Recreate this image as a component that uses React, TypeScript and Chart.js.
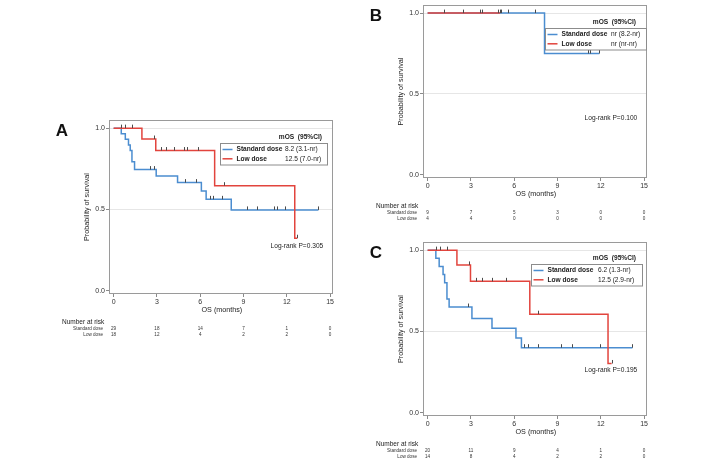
import React, { useEffect, useRef } from "react";
import { Chart, registerables } from "chart.js";
Chart.register(...registerables);

const FONT = '"Liberation Sans", Arial, Helvetica, sans-serif';
const BLUE = "#4b8dd0";
const RED = "#e2443d";
const INK = "#222222";
const FRAME = "#9a9a9a";
const CENSOR = "#4a4a4a";

const xTickValues = [0, 3, 6, 9, 12, 15];
const yTickValues = [0, 0.5, 1];
const groupLabels = ["Standard dose", "Low dose"];
const legendTitle = "mOS  (95%CI)";
const xTitle = "OS (months)";
const yTitle = "Probability of survival";
const riskTitle = "Number at risk";

// ---------- Panel A ----------
const stdA_time = [0, 0.53, 0.81, 1.03, 1.15, 1.27, 1.45, 2.95, 4.43, 6.08, 6.41, 8.15, 14.19];
const stdA_surv = [1, 0.966, 0.931, 0.897, 0.862, 0.793, 0.745, 0.706, 0.665, 0.614, 0.562, 0.497, 0.497];
const stdA_cens = [2.49, 2.77, 4.98, 5.68, 6.65, 6.92, 7.48, 9.23, 9.95, 11.1, 11.33, 11.9, 14.19];
const lowA_time = [0, 1.96, 2.92, 7.0, 12.55, 12.72];
const lowA_surv = [1, 0.933, 0.862, 0.646, 0.323, 0.323];
const lowA_cens = [0.48, 0.81, 1.29, 2.79, 3.3, 3.65, 4.18, 4.87, 5.08, 5.84, 7.64, 12.72];
const riskStdA = [29, 18, 14, 7, 1, 0];
const riskLowA = [18, 12, 4, 2, 2, 0];
const mosA = ["8.2 (3.1-nr)", "12.5 (7.0-nr)"];
const pA = "Log-rank P=0.305";

// ---------- Panel B ----------
const stdB_time = [0, 8.1, 11.9];
const stdB_surv = [1, 0.75, 0.75];
const stdB_cens = [1.13, 2.43, 5.1, 5.6, 7.45, 11.08, 11.27, 11.9];
const lowB_time = [0, 5.02];
const lowB_surv = [1, 1];
const lowB_cens = [3.63, 3.75, 4.9, 5.02];
const riskStdB = [9, 7, 5, 3, 0, 0];
const riskLowB = [4, 4, 0, 0, 0, 0];
const mosB = ["nr (8.2-nr)", "nr (nr-nr)"];
const pB = "Log-rank P=0.100";

// ---------- Panel C ----------
const stdC_time = [0, 0.57, 0.8, 1.07, 1.18, 1.34, 1.49, 3.07, 4.46, 6.12, 6.5, 14.19];
const stdC_surv = [1, 0.95, 0.9, 0.85, 0.8, 0.7, 0.65, 0.58, 0.52, 0.46, 0.4, 0.4];
const stdC_cens = [2.77, 6.69, 6.97, 7.62, 9.23, 9.97, 11.95, 14.19];
const lowC_time = [0, 2.03, 2.97, 7.08, 12.5, 12.75];
const lowC_surv = [1, 0.909, 0.808, 0.606, 0.303, 0.303];
const lowC_cens = [0.58, 0.86, 1.32, 2.84, 3.35, 3.74, 4.45, 5.4, 7.65, 12.75];
const riskStdC = [20, 11, 9, 4, 1, 0];
const riskLowC = [14, 8, 4, 2, 2, 0];
const mosC = ["6.2 (1.3-nr)", "12.5 (2.9-nr)"];
const pC = "Log-rank P=0.195";

type Curve = { t: number[]; s: number[]; c: number[]; color: string };
type PanelDef = {
  letter: string;
  canvas: { x: number; y: number; w: number; h: number };
  frame: { l: number; t: number; r: number; b: number };
  std: Curve;
  low: Curve;
  riskStd: number[];
  riskLow: number[];
  mos: string[];
  pText: string;
  pPos: { x: number; y: number };
  legend: { right: number; top: number; w: number; valDx: number };
};

const Y_AXIS_W = 30;
const X_AXIS_H = 20;

const panels: PanelDef[] = [
  {
    letter: "A",
    canvas: { x: 30, y: 95, w: 330, h: 255 },
    frame: { l: 109, t: 120, r: 333, b: 294 },
    std: { t: stdA_time, s: stdA_surv, c: stdA_cens, color: BLUE },
    low: { t: lowA_time, s: lowA_surv, c: lowA_cens, color: RED },
    riskStd: riskStdA,
    riskLow: riskLowA,
    mos: mosA,
    pText: pA,
    pPos: { x: 12.7, y: 0.276 },
    legend: { right: 328, top: 23, w: 108, valDx: 65 },
  },
  {
    letter: "B",
    canvas: { x: 360, y: 0, w: 345, h: 232 },
    frame: { l: 423, t: 5, r: 647, b: 178 },
    std: { t: stdB_time, s: stdB_surv, c: stdB_cens, color: BLUE },
    low: { t: lowB_time, s: lowB_surv, c: lowB_cens, color: RED },
    riskStd: riskStdB,
    riskLow: riskLowB,
    mos: mosB,
    pText: pB,
    pPos: { x: 12.7, y: 0.351 },
    legend: { right: 647, top: 23, w: 102, valDx: 66 },
  },
  {
    letter: "C",
    canvas: { x: 360, y: 232, w: 345, h: 231 },
    frame: { l: 423, t: 242, r: 647, b: 416 },
    std: { t: stdC_time, s: stdC_surv, c: stdC_cens, color: BLUE },
    low: { t: lowC_time, s: lowC_surv, c: lowC_cens, color: RED },
    riskStd: riskStdC,
    riskLow: riskLowC,
    mos: mosC,
    pText: pC,
    pPos: { x: 12.7, y: 0.26 },
    legend: { right: 643, top: 22, w: 112, valDx: 67 },
  },
];

function survAt(ts: number[], ss: number[], t: number) {
  let v = ss[0];
  for (let i = 0; i < ts.length; i++) if (ts[i] <= t + 1e-9) v = ss[i];
  return v;
}

function makePlugin(p: PanelDef) {
  return {
    id: "km_" + p.letter,
    afterDraw(chart: any) {
      const ctx = chart.ctx as CanvasRenderingContext2D;
      const ca = chart.chartArea;
      const xs = chart.scales.x;
      const ys = chart.scales.y;
      ctx.save();

      // frame
      ctx.strokeStyle = FRAME;
      ctx.lineWidth = 1;
      ctx.strokeRect(Math.round(ca.left) + 0.5, Math.round(ca.top) + 0.5, Math.round(ca.right - ca.left) - 1, Math.round(ca.bottom - ca.top) - 1);

      // censor marks
      ctx.strokeStyle = CENSOR;
      ctx.lineWidth = 1;
      [p.std, p.low].forEach((cv) => {
        cv.c.forEach((t) => {
          const px = Math.round(xs.getPixelForValue(t)) + 0.5;
          const py = ys.getPixelForValue(survAt(cv.t, cv.s, t));
          ctx.beginPath();
          ctx.moveTo(px, py);
          ctx.lineTo(px, py - 3.5);
          ctx.stroke();
        });
      });

      // legend
      const offX = p.canvas.x;
      const lg = p.legend;
      const boxR = lg.right - offX;
      const boxL = boxR - lg.w;
      const boxT = ca.top + lg.top;
      const boxH = 21.5;
      ctx.fillStyle = "#ffffff";
      ctx.fillRect(boxL, boxT, lg.w, boxH);
      ctx.strokeStyle = "#8c8c8c";
      ctx.strokeRect(Math.round(boxL) + 0.5, Math.round(boxT) + 0.5, lg.w - 1, boxH);
      ctx.fillStyle = INK;
      ctx.textBaseline = "middle";
      ctx.font = `bold 6.6px ${FONT}`;
      ctx.textAlign = "right";
      ctx.fillText(legendTitle, ca.right - 11, boxT - 5.5);
      const rowsY = [boxT + 6.5, boxT + 15.8];
      const cols = [BLUE, RED];
      rowsY.forEach((ry, i) => {
        ctx.strokeStyle = cols[i];
        ctx.lineWidth = 1.5;
        ctx.beginPath();
        ctx.moveTo(boxL + 2.5, ry);
        ctx.lineTo(boxL + 12.5, ry);
        ctx.stroke();
        ctx.fillStyle = INK;
        ctx.textAlign = "left";
        ctx.font = `bold 6.6px ${FONT}`;
        ctx.fillText(groupLabels[i], boxL + 16.5, ry);
        ctx.font = `6.6px ${FONT}`;
        ctx.fillText(p.mos[i], boxL + lg.valDx, ry);
      });

      // log-rank text
      ctx.font = `6.6px ${FONT}`;
      ctx.textAlign = "center";
      ctx.fillText(p.pText, xs.getPixelForValue(p.pPos.x), ys.getPixelForValue(p.pPos.y));

      // panel letter
      ctx.font = `bold 17px ${FONT}`;
      ctx.fillStyle = "#111111";
      ctx.textAlign = "center";
      ctx.fillText(p.letter, ca.left - 47, ca.top + 11);

      // axis titles
      ctx.fillStyle = INK;
      ctx.font = `7.2px ${FONT}`;
      ctx.fillText(xTitle, xs.getPixelForValue(7.5), ca.bottom + 16.5);
      ctx.save();
      ctx.translate(ca.left - 22, (ca.top + ca.bottom) / 2);
      ctx.rotate(-Math.PI / 2);
      ctx.fillText(yTitle, 0, 0);
      ctx.restore();

      // number at risk
      ctx.textAlign = "left";
      ctx.font = `6.5px ${FONT}`;
      ctx.fillText(riskTitle, ca.left - 47, ca.bottom + 28);
      ctx.font = `4.6px ${FONT}`;
      ctx.fillStyle = "#333333";
      const rY = [ca.bottom + 34.5, ca.bottom + 40.5];
      const rows = [p.riskStd, p.riskLow];
      rY.forEach((yy, i) => {
        ctx.textAlign = "right";
        ctx.fillText(groupLabels[i], ca.left - 6, yy);
        ctx.textAlign = "center";
        rows[i].forEach((n, k) => {
          ctx.fillText(String(n), xs.getPixelForValue(xTickValues[k]), yy);
        });
      });

      ctx.restore();
    },
  };
}

function fixAxis(kind: "x" | "y") {
  return (s: any) => {
    if (kind === "x") s.height = X_AXIS_H;
    else s.width = Y_AXIS_W;
    s.paddingTop = 0;
    s.paddingBottom = 0;
    s.paddingLeft = 0;
    s.paddingRight = 0;
  };
}

function KMPanel({ p }: { p: PanelDef }) {
  const ref = useRef<HTMLCanvasElement | null>(null);
  useEffect(() => {
    if (!ref.current) return;
    const fl = p.frame.l - p.canvas.x;
    const ft = p.frame.t - p.canvas.y;
    const fr = p.frame.r - p.canvas.x;
    const fb = p.frame.b - p.canvas.y;
    const mk = (cv: Curve) => cv.t.map((t, i) => ({ x: t, y: cv.s[i] }));
    const chart = new Chart(ref.current, {
      type: "line",
      data: {
        datasets: [
          { data: mk(p.low), borderColor: p.low.color, borderWidth: 1.5, stepped: true, pointRadius: 0, fill: false },
          { data: mk(p.std), borderColor: p.std.color, borderWidth: 1.5, stepped: true, pointRadius: 0, fill: false },
        ],
      },
      options: {
        animation: false,
        responsive: false,
        maintainAspectRatio: false,
        devicePixelRatio: 1,
        layout: {
          padding: {
            left: fl - Y_AXIS_W,
            top: ft,
            right: p.canvas.w - fr,
            bottom: p.canvas.h - fb - X_AXIS_H,
          },
        },
        plugins: { legend: { display: false }, tooltip: { enabled: false }, title: { display: false } },
        scales: {
          x: {
            type: "linear",
            min: -0.32,
            max: 15.2,
            afterBuildTicks: (s: any) => {
              s.ticks = xTickValues.map((v) => ({ value: v }));
            },
            afterFit: fixAxis("x"),
            border: { display: false },
            grid: { drawOnChartArea: false, drawTicks: true, tickLength: 3, tickColor: "#8a8a8a" },
            ticks: {
              autoSkip: false,
              maxRotation: 0,
              padding: 1,
              color: "#333333",
              font: { family: FONT, size: 7 },
              callback: (v: any) => String(v),
            },
          },
          y: {
            type: "linear",
            min: -0.02,
            max: 1.05,
            afterBuildTicks: (s: any) => {
              s.ticks = yTickValues.map((v) => ({ value: v }));
            },
            afterFit: fixAxis("y"),
            border: { display: false },
            grid: {
              color: (c: any) => (c.tick && c.tick.value > 0 ? "#e6e6e6" : "rgba(0,0,0,0)"),
              tickColor: "#8a8a8a",
              tickLength: 3,
              lineWidth: 1,
            },
            ticks: {
              padding: 1,
              color: "#333333",
              font: { family: FONT, size: 7 },
              callback: (v: any) => Number(v).toFixed(1),
            },
          },
        },
      } as any,
      plugins: [makePlugin(p)],
    });
    return () => chart.destroy();
  }, [p]);
  return (
    <canvas
      ref={ref}
      width={p.canvas.w}
      height={p.canvas.h}
      style={{ position: "absolute", left: p.canvas.x, top: p.canvas.y, width: p.canvas.w, height: p.canvas.h }}
    />
  );
}

export default function App() {
  return (
    <div style={{ position: "fixed", left: 0, top: 0, width: 705, height: 463, background: "#ffffff", overflow: "hidden" }}>
      {panels.map((p) => (
        <KMPanel key={p.letter} p={p} />
      ))}
    </div>
  );
}
